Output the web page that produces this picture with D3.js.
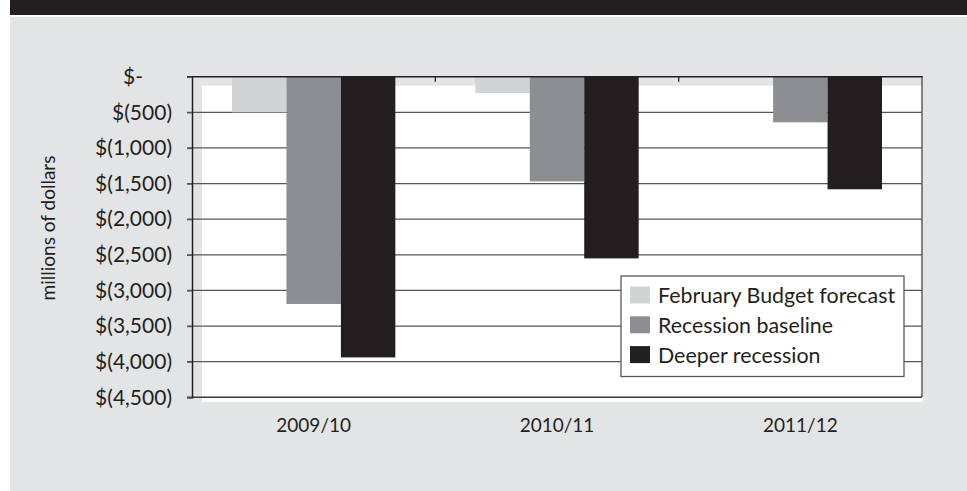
<!DOCTYPE html>
<html>
<head>
<meta charset="utf-8">
<script src="https://cdn.jsdelivr.net/npm/d3@7"></script>
<style>
  body { margin: 0; background: #fff; }
  text { font-family: Lato, "Open Sans", sans-serif; fill: #231f20; }
</style>
</head>
<body>
<script>
// values, millions of dollars
let years = ["2009/10", "2010/11", "2011/12"]
let seriesNames = ["February Budget forecast", "Recession baseline", "Deeper recession"]
let febBudget = [-500, -230, 0]
let recessionBase = [-3190, -1470, -640]
let deeperRecession = [-3940, -2550, -1580]
let yTicks = [0, -500, -1000, -1500, -2000, -2500, -3000, -3500, -4000, -4500]
let colors = ["#d1d3d4", "#8d8e92", "#231f20"]

let w = 967
let h = 491
let plotLeft = 192
let plotRight = 922
let plotTop = 76.7
let plotBottom = 397.3

let svg = d3.select("body").append("svg")
  .attr("width", w)
  .attr("height", h)

// header band and grey panel
svg.append("rect").attr("x", 10).attr("y", 0).attr("width", w - 10).attr("height", 15).attr("fill", "#231f20")
svg.append("rect").attr("x", 10).attr("y", 17).attr("width", w - 10).attr("height", h - 17).attr("fill", "#e3e4e6")

let yScale = d3.scaleLinear().domain([0, -4500]).range([plotTop, plotBottom])
let x0 = d3.scaleBand().domain(years).range([plotLeft, plotRight]).padding(0)
let gap = 40
let x1 = d3.scaleBand().domain(seriesNames).range([gap, x0.bandwidth() - gap]).padding(0)

// white plot area (offset like the source)
svg.append("rect")
  .attr("x", plotLeft + 10).attr("y", plotTop + 9)
  .attr("width", plotRight - plotLeft - 9).attr("height", plotBottom - plotTop - 4.5)
  .attr("fill", "#fff")

// gridlines
svg.append("g").selectAll("line")
  .data(yTicks.slice(1, -1))
  .enter().append("line")
  .attr("x1", plotLeft - 5).attr("x2", plotRight)
  .attr("y1", d => yScale(d)).attr("y2", d => yScale(d))
  .attr("stroke", "#555658").attr("stroke-width", 1.3)

// bars
let rows = years.map((y, i) => ({ year: y, vals: [febBudget[i], recessionBase[i], deeperRecession[i]] }))
svg.append("g").selectAll("g")
  .data(rows)
  .enter().append("g")
  .attr("transform", d => "translate(" + x0(d.year) + ",0)")
  .selectAll("rect")
  .data(d => d.vals.map((v, j) => ({ name: seriesNames[j], v: v, c: colors[j] })))
  .enter().append("rect")
  .attr("x", d => x1(d.name))
  .attr("width", x1.bandwidth())
  .attr("y", yScale(0))
  .attr("height", d => yScale(d.v) - yScale(0))
  .attr("fill", d => d.c)

// frame
svg.append("line").attr("x1", plotRight).attr("x2", plotRight).attr("y1", plotTop).attr("y2", plotBottom)
  .attr("stroke", "#58595b").attr("stroke-width", 1.5)
svg.append("line").attr("x1", plotLeft - 5).attr("x2", plotRight).attr("y1", plotBottom).attr("y2", plotBottom)
  .attr("stroke", "#3a3a3c").attr("stroke-width", 1.5)
svg.append("line").attr("x1", plotLeft - 5).attr("x2", plotRight + 0.75).attr("y1", plotTop).attr("y2", plotTop)
  .attr("stroke", "#231f20").attr("stroke-width", 1.5)

// y axis
let yAxis = d3.axisLeft(yScale)
  .tickValues(yTicks)
  .tickSize(5)
  .tickPadding(15)
  .tickFormat(d => d === 0 ? "$-" : "$(" + d3.format(",")(-d) + ")")
let ya = svg.append("g")
  .attr("transform", "translate(" + plotLeft + ",0)")
  .call(yAxis)
ya.select(".domain").attr("stroke", "#231f20").attr("stroke-width", 1.5)
ya.selectAll(".tick line").attr("stroke", "#555658").attr("stroke-width", 1.3)
ya.selectAll(".tick text")
  .attr("font-size", 21)
  .attr("font-family", "Lato, sans-serif")
  .attr("fill", "#231f20")
  .attr("dx", d => d === 0 ? -29 : 0)

// x category ticks on the zero line
svg.append("g").selectAll("line")
  .data(years.slice(1))
  .enter().append("line")
  .attr("x1", d => x0(d)).attr("x2", d => x0(d))
  .attr("y1", plotTop).attr("y2", plotTop + 5)
  .attr("stroke", "#231f20").attr("stroke-width", 1.3)

svg.append("g").selectAll("text")
  .data(years)
  .enter().append("text")
  .attr("x", d => x0(d) + x0.bandwidth() / 2)
  .attr("y", 432)
  .attr("text-anchor", "middle")
  .attr("font-size", 19)
  .text(d => d)

svg.append("text")
  .attr("transform", "translate(55,228) rotate(-90)")
  .attr("text-anchor", "middle")
  .attr("font-size", 19)
  .text("millions of dollars")

// legend
let legend = svg.append("g").attr("transform", "translate(621,276)")
legend.append("rect")
  .attr("width", 283).attr("height", 100.5)
  .attr("fill", "#fff").attr("stroke", "#58595b").attr("stroke-width", 1.3)
let item = legend.selectAll(".item")
  .data(seriesNames)
  .enter().append("g")
  .attr("class", "item")
  .attr("transform", (d, i) => "translate(9," + (10.5 + i * 29.8) + ")")
item.append("rect").attr("width", 20).attr("height", 17).attr("fill", (d, i) => colors[i])
item.append("text").attr("x", 28).attr("y", 16.5).attr("font-size", 21.4).text(d => d)
</script>
</body>
</html>
